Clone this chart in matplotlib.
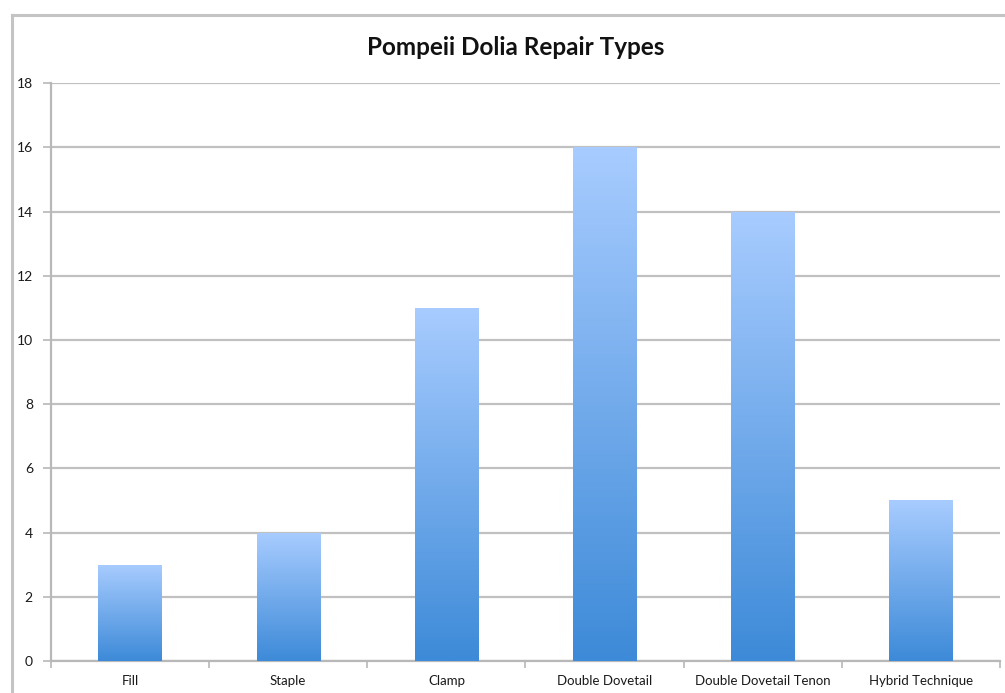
import numpy as np
import matplotlib
matplotlib.use('Agg')
import matplotlib.pyplot as plt
from matplotlib.colors import LinearSegmentedColormap
from matplotlib.lines import Line2D

# datos del grafico
categories = ['Fill', 'Staple', 'Clamp', 'Double Dovetail', 'Double Dovetail Tenon', 'Hybrid Technique']
counts = [3, 4, 11, 16, 14, 5]
y_ticks = [0, 2, 4, 6, 8, 10, 12, 14, 16, 18]

plt.rcParams['font.family'] = ['Lato', 'DejaVu Sans']

fig = plt.figure(figsize=(10.05, 6.93), dpi=100)
ax = fig.add_axes([0.0507, 0.0462, 0.9443, 0.8338])

# marco gris: solo arriba e izquierda (la imagen esta recortada)
fx = 11.5 / 1005
fy = 1 - 14.5 / 693
fig.add_artist(Line2D([fx, 1.0], [fy, fy], transform=fig.transFigure, color='#c4c4c4', linewidth=2.2))
fig.add_artist(Line2D([fx, fx], [0.0, fy], transform=fig.transFigure, color='#c4c4c4', linewidth=2.2))

x = np.arange(len(categories))
bars = ax.bar(x, counts, width=0.4, color='none', edgecolor='none', zorder=3)

# degradado vertical en cada barra
cmap = LinearSegmentedColormap.from_list('bar_grad', ['#3d8ad8', '#a8ccff'])
grad = np.linspace(0, 1, 256).reshape(-1, 1)
for b in bars:
    x0, w, h = b.get_x(), b.get_width(), b.get_height()
    im = ax.imshow(grad, cmap=cmap, origin='lower', aspect='auto',
                   extent=[x0, x0 + w, 0, h], zorder=3)
    im.set_clip_path(b)

ax.set_xlim(-0.5, len(categories) - 0.5)
ax.set_ylim(0, 18)
ax.set_yticks(y_ticks)
ax.yaxis.grid(True, color='#c0c0c0', linewidth=1.6, zorder=0)
ax.set_axisbelow(True)

ax.set_xticks(x)
ax.set_xticklabels(categories, fontsize=9.5)
ax.set_xticks(np.arange(len(categories) + 1) - 0.5, minor=True)
ax.tick_params(axis='x', which='major', length=0, pad=10, colors='#1a1a1a')
ax.tick_params(axis='x', which='minor', length=5, width=1.2, color='#b8b8b8')
ax.tick_params(axis='y', length=6, width=1.2, color='#b8b8b8', labelsize=10, pad=7, labelcolor='#1a1a1a')

for s in ['top', 'right']:
    ax.spines[s].set_visible(False)
for s in ['left', 'bottom']:
    ax.spines[s].set_color('#b8b8b8')
    ax.spines[s].set_linewidth(1.6)

fig.text(0.513, 0.932, 'Pompeii Dolia Repair Types', ha='center', va='center',
         fontsize=17.5, fontweight='bold', color='#111111')

plt.savefig('out.png', dpi=100)
